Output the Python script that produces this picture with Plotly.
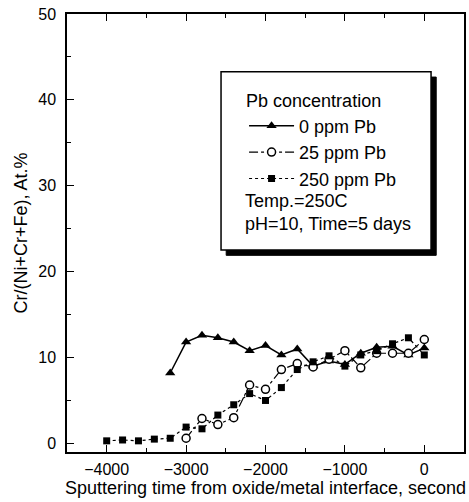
import plotly.graph_objects as go

# ---- data ----
time_0ppm = [-3200, -3000, -2800, -2600, -2400, -2200, -2000, -1800, -1600,
             -1400, -1200, -1000, -800, -600, -400, -200, 0]
cr_0ppm = [8.2, 11.8, 12.6, 12.3, 11.8, 10.8, 11.4, 10.3, 11.0,
           9.0, 9.6, 9.2, 10.5, 11.2, 11.3, 10.3, 11.1]

time_25ppm = [-3000, -2800, -2600, -2400, -2200, -2000, -1800, -1600,
              -1400, -1200, -1000, -800, -600, -400, -200, 0]
cr_25ppm = [0.6, 2.9, 2.2, 3.0, 6.8, 6.3, 8.6, 9.3,
            8.9, 9.8, 10.8, 8.8, 10.5, 10.5, 10.5, 12.1]

time_250ppm = [-4000, -3800, -3600, -3400, -3200, -3000, -2800, -2600, -2400,
               -2200, -2000, -1800, -1600, -1400, -1200, -1000, -800, -600,
               -400, -200, 0]
cr_250ppm = [0.3, 0.4, 0.3, 0.5, 0.6, 1.9, 1.7, 3.3, 4.5,
             5.8, 5.0, 6.5, 8.6, 9.5, 10.2, 9.0, 10.3, 10.8,
             11.6, 12.3, 10.3]

series_names = ["0 ppm Pb", "25 ppm Pb", "250 ppm Pb"]
x_ticks = [-4000, -3000, -2000, -1000, 0]
y_ticks = [0, 10, 20, 30, 40, 50]
legend_title = "Pb concentration"
note_lines = ["Temp.=250C", "pH=10, Time=5 days"]

FONT = "Liberation Sans, Arial, sans-serif"

fig = go.Figure()
fig.add_trace(go.Scatter(
    x=time_0ppm, y=cr_0ppm, name=series_names[0], mode="lines+markers",
    line=dict(color="black", width=1.5, dash="solid"),
    marker=dict(symbol="triangle-up", size=9, color="black")))
fig.add_trace(go.Scatter(
    x=time_25ppm, y=cr_25ppm, name=series_names[1], mode="lines+markers",
    line=dict(color="black", width=1.2, dash="dashdot"),
    marker=dict(symbol="circle", size=8, color="white",
                line=dict(color="black", width=1.5))))
fig.add_trace(go.Scatter(
    x=time_250ppm, y=cr_250ppm, name=series_names[2], mode="lines+markers",
    line=dict(color="black", width=1.2, dash="dot"),
    marker=dict(symbol="square", size=7, color="black")))

# legend frame with drop shadow (paper coords)
bx0, bx1, by0, by1 = 0.388, 0.917, 0.461, 0.868
fig.add_shape(type="rect", xref="paper", yref="paper",
              x0=bx0 + 0.013, x1=bx1 + 0.013, y0=by0 - 0.012, y1=by1 - 0.012,
              fillcolor="black", line=dict(color="black", width=1), layer="above")
fig.add_shape(type="rect", xref="paper", yref="paper",
              x0=bx0, x1=bx1, y0=by0, y1=by1,
              fillcolor="white", line=dict(color="black", width=1.5), layer="above")

for i, txt in enumerate(note_lines):
    fig.add_annotation(xref="paper", yref="paper", x=0.443, y=0.572 - i * 0.052,
                       text=txt, showarrow=False, xanchor="left", yanchor="middle",
                       font=dict(family=FONT, size=18, color="black"))

fig.update_layout(
    width=469, height=502,
    margin=dict(l=67, r=3, t=14, b=50),
    paper_bgcolor="white", plot_bgcolor="white",
    font=dict(family=FONT, size=16, color="black"),
    showlegend=True,
    legend=dict(x=0.446, y=0.84, xanchor="left", yanchor="top",
                bgcolor="rgba(0,0,0,0)", borderwidth=0, itemwidth=45,
                title=dict(text=legend_title, font=dict(family=FONT, size=18)),
                font=dict(family=FONT, size=18, color="black"),
                tracegroupgap=0),
    xaxis=dict(range=[-4500, 500], tickvals=x_ticks,
               ticks="inside", ticklen=7, tickwidth=1.2, tickcolor="black",
               minor=dict(dtick=500, ticks="inside", ticklen=4, tickcolor="black"),
               showline=True, linecolor="black", linewidth=1.5, mirror="ticks",
               showgrid=False, zeroline=False,
               tickfont=dict(family=FONT, size=16), ticklabelstandoff=2,
               title=dict(text="Sputtering time from oxide/metal interface, second",
                          font=dict(family=FONT, size=18), standoff=4)),
    yaxis=dict(range=[-1, 50], tickvals=y_ticks,
               ticks="inside", ticklen=7, tickwidth=1.2, tickcolor="black",
               minor=dict(dtick=5, ticks="inside", ticklen=4, tickcolor="black"),
               showline=True, linecolor="black", linewidth=1.5, mirror=True,
               showgrid=False, zeroline=False,
               tickfont=dict(family=FONT, size=16), ticklabelstandoff=6,
               title=dict(text="Cr/(Ni+Cr+Fe), At.%",
                          font=dict(family=FONT, size=18), standoff=6)),
)

fig.write_html("out.html")
